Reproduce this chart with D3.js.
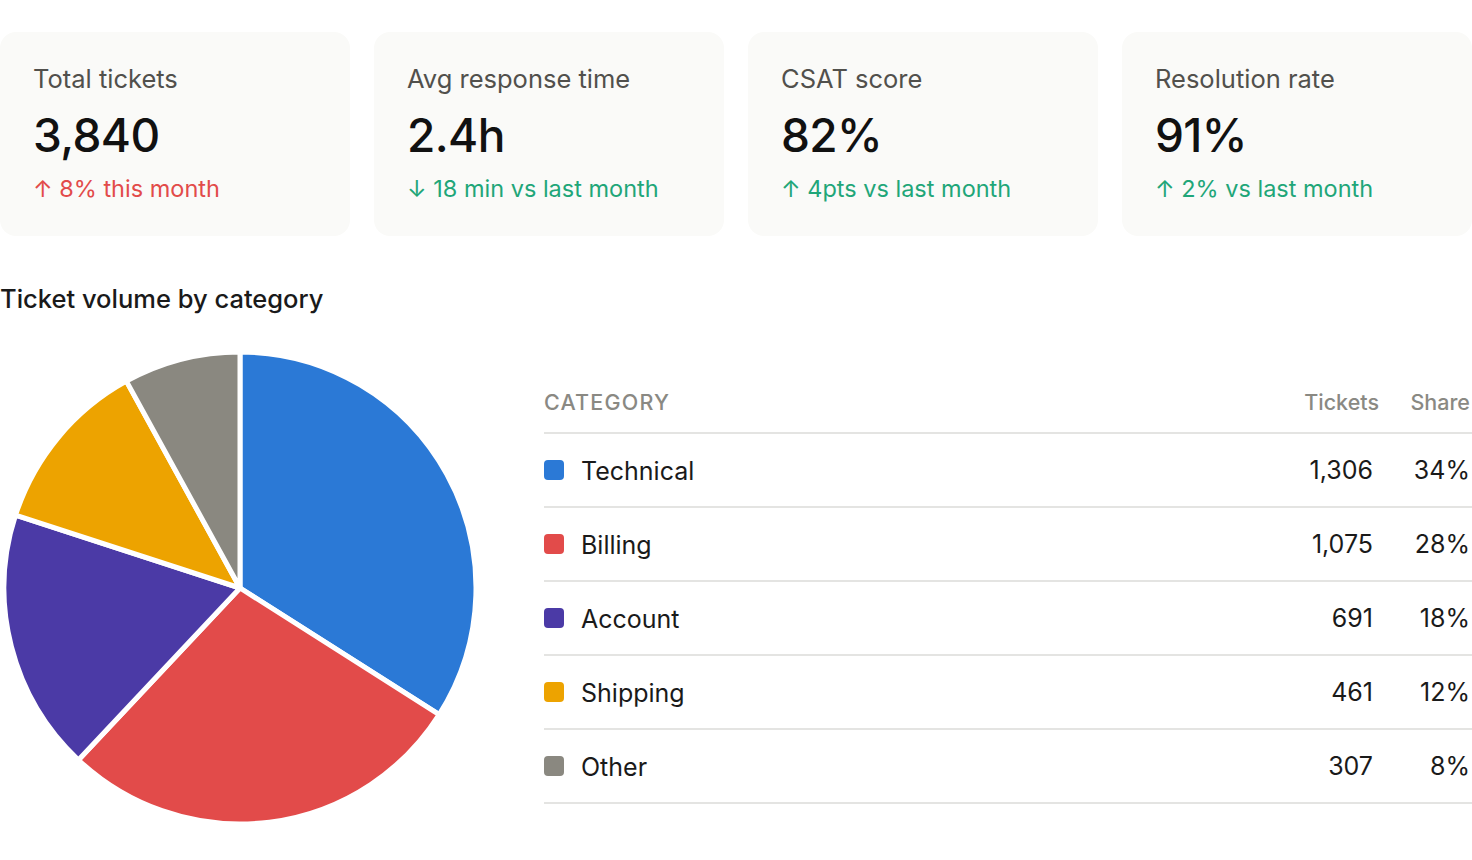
<!DOCTYPE html>
<html>
<head>
<meta charset="utf-8">
<script src="https://cdn.jsdelivr.net/npm/d3@7"></script>
<style>
  html, body { margin: 0; padding: 0; background: #ffffff; }
  svg { display: block; font-family: Inter, "Noto Sans", sans-serif; }
</style>
</head>
<body>
<svg id="chart" width="1472" height="860"></svg>
<script>
// KPI data
const kpiLabels = ["Total tickets", "Avg response time", "CSAT score", "Resolution rate"];
const kpiValues = ["3,840", "2.4h", "82%", "91%"];
const kpiDeltas = ["↑ 8% this month", "↓ 18 min vs last month", "↑ 4pts vs last month", "↑ 2% vs last month"];
const kpiDeltaTone = ["bad", "good", "good", "good"];

// Category data
const categories = ["Technical", "Billing", "Account", "Shipping", "Other"];
const tickets = [1306, 1075, 691, 461, 307];
const shares = [34, 28, 18, 12, 8];
const colors = ["#2b79d6", "#e24b4a", "#4b3aa6", "#eda300", "#8a8880"];

const chartTitle = "Ticket volume by category";
const headers = ["CATEGORY", "Tickets", "Share"];

const svg = d3.select("#chart");

// ---- KPI cards ----
const cardX = d3.scaleBand().domain(d3.range(kpiLabels.length)).range([0, 1472]).paddingInner(24 / 374).paddingOuter(0);
const cards = svg.selectAll("g.card").data(kpiLabels).join("g")
  .attr("class", "card")
  .attr("transform", (d, i) => `translate(${cardX(i)},32)`);
cards.append("rect")
  .attr("width", cardX.bandwidth()).attr("height", 204)
  .attr("rx", 16).attr("fill", "#fafaf8");
cards.append("text")
  .attr("x", 33).attr("y", 56)
  .attr("font-size", 25.5).attr("fill", "#51504c")
  .text(d => d);
cards.append("text")
  .attr("x", 33).attr("y", 120)
  .attr("font-size", 46).attr("font-weight", 500).attr("fill", "#111111")
  .attr("letter-spacing", -0.6)
  .text((d, i) => kpiValues[i]);
cards.append("text")
  .attr("x", 33).attr("y", 165)
  .attr("font-size", 23.5).attr("fill", (d, i) => kpiDeltaTone[i] === "bad" ? "#e24b4a" : "#1fa679")
  .text((d, i) => kpiDeltas[i]);

// ---- Title ----
svg.append("text")
  .attr("x", 0).attr("y", 308)
  .attr("font-size", 25.5).attr("font-weight", 500).attr("fill", "#1a1a1a")
  .text(chartTitle);

// ---- Pie ----
const pie = d3.pie().sort(null).value(d => d)(tickets);
const arc = d3.arc().innerRadius(0).outerRadius(236);
svg.append("g")
  .attr("transform", "translate(240,588)")
  .selectAll("path").data(pie).join("path")
  .attr("d", arc)
  .attr("fill", (d, i) => colors[i])
  .attr("stroke", "#ffffff").attr("stroke-width", 5).attr("stroke-linejoin", "round");

// ---- Table ----
const rowY = d3.scaleBand().domain(categories).range([433, 433 + 74 * categories.length]);
const tbl = svg.append("g");
tbl.append("text").attr("x", 544).attr("y", 410)
  .attr("font-size", 21.5).attr("font-weight", 500).attr("letter-spacing", 1.2).attr("fill", "#8a8983")
  .text(headers[0]);
tbl.append("text").attr("x", 1379).attr("y", 410).attr("text-anchor", "end")
  .attr("font-size", 21.5).attr("font-weight", 500).attr("fill", "#8a8983")
  .text(headers[1]);
tbl.append("text").attr("x", 1470).attr("y", 410).attr("text-anchor", "end")
  .attr("font-size", 21.5).attr("font-weight", 500).attr("fill", "#8a8983")
  .text(headers[2]);

tbl.append("line").attr("x1", 544).attr("x2", 1472).attr("y1", 433).attr("y2", 433)
  .attr("stroke", "#e4e4e2").attr("stroke-width", 2);

const rows = tbl.selectAll("g.row").data(categories).join("g")
  .attr("class", "row")
  .attr("transform", d => `translate(0,${rowY(d)})`);
rows.append("line").attr("x1", 544).attr("x2", 1472)
  .attr("y1", rowY.bandwidth()).attr("y2", rowY.bandwidth())
  .attr("stroke", "#e4e4e2").attr("stroke-width", 2);
rows.append("rect").attr("x", 544).attr("y", 27).attr("width", 20).attr("height", 20)
  .attr("rx", 4).attr("fill", (d, i) => colors[i]);
rows.append("text").attr("x", 581).attr("y", 47)
  .attr("font-size", 25).attr("fill", "#1a1a1a")
  .text(d => d);
rows.append("text").attr("x", 1373).attr("y", 46).attr("text-anchor", "end")
  .attr("font-size", 25).attr("fill", "#1a1a1a")
  .text((d, i) => d3.format(",")(tickets[i]));
rows.append("text").attr("x", 1470).attr("y", 46).attr("text-anchor", "end")
  .attr("font-size", 25).attr("fill", "#1a1a1a")
  .text((d, i) => shares[i] + "%");
</script>
</body>
</html>
